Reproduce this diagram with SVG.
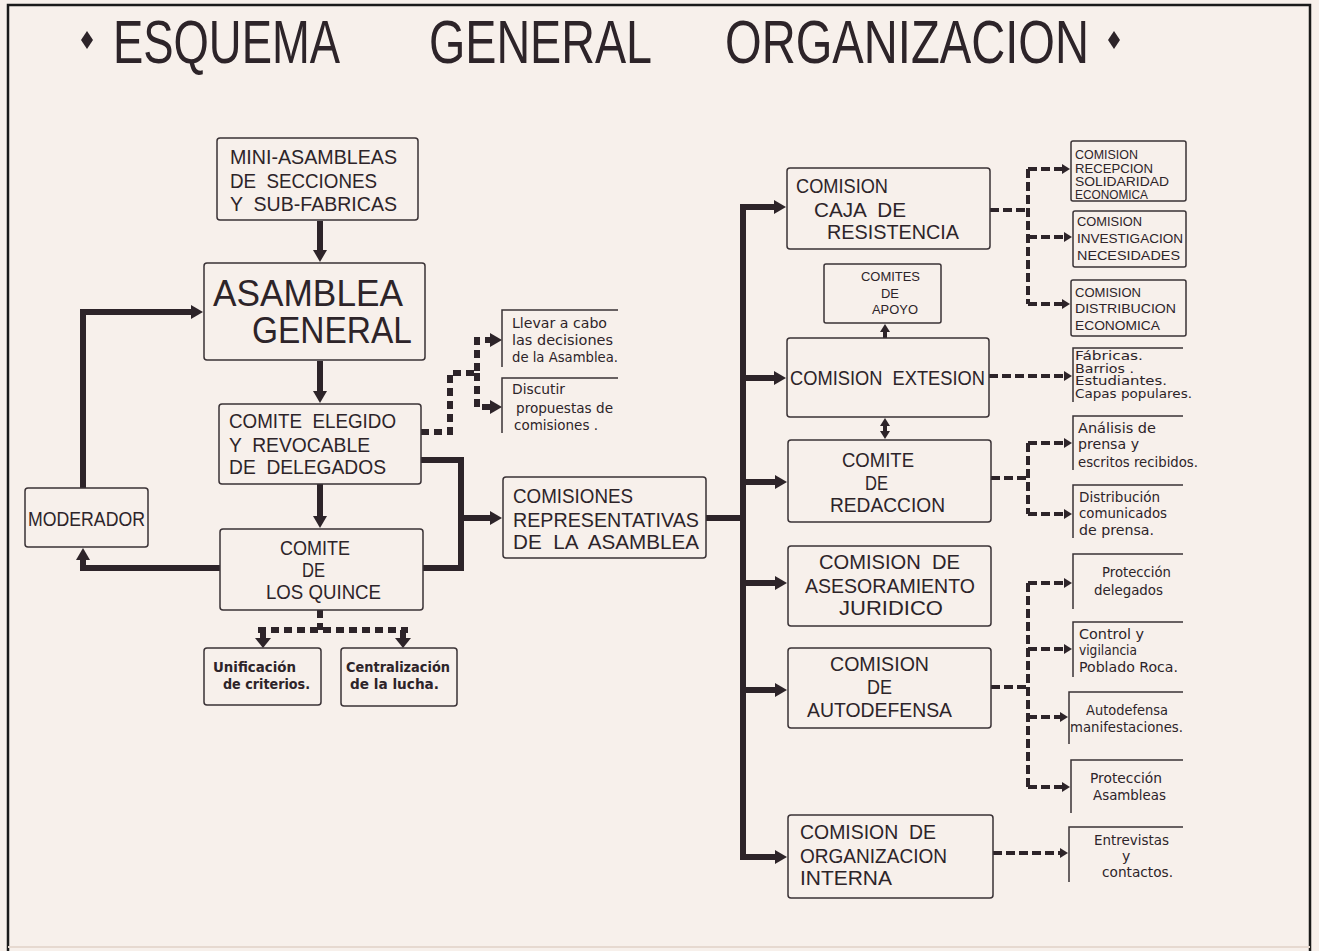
<svg xmlns="http://www.w3.org/2000/svg" width="1319" height="951" viewBox="0 0 1319 951">
<style>
.bg{fill:#f7f0eb}
.frame{stroke:#1a1a1a;stroke-width:2.5;fill:none}
.box{fill:none;stroke:#3a3236;stroke-width:1.5}
.open{fill:none;stroke:#3a3236;stroke-width:1.5}
.cap{font-family:"Liberation Sans",Arial,sans-serif;fill:#2d2429}
.low{font-family:"DejaVu Sans","Liberation Sans",sans-serif;fill:#2d2429}
.solid{fill:none;stroke:#2d2429;stroke-width:6}
.thin{fill:none;stroke:#2d2429;stroke-width:4}
.dashL{fill:none;stroke:#2d2429;stroke-width:6;stroke-dasharray:8 5}
.dashR{fill:none;stroke:#2d2429;stroke-width:4;stroke-dasharray:9 4}
</style>
<defs>
<marker id="ah" markerUnits="userSpaceOnUse" markerWidth="12" markerHeight="14" viewBox="0 0 12 14" refX="2" refY="7" orient="auto"><path d="M0,0 L12,7 L0,14 z" fill="#2d2429"/></marker>
<marker id="ahw" markerUnits="userSpaceOnUse" markerWidth="10" markerHeight="16" viewBox="0 0 10 16" refX="2" refY="8" orient="auto"><path d="M0,0 L10,8 L0,16 z" fill="#2d2429"/></marker>
<marker id="ahs" markerUnits="userSpaceOnUse" markerWidth="8" markerHeight="10" viewBox="0 0 8 10" refX="1" refY="5" orient="auto"><path d="M0,0 L8,5 L0,10 z" fill="#2d2429"/></marker>
<marker id="ahsStart" markerUnits="userSpaceOnUse" markerWidth="8" markerHeight="10" viewBox="0 0 8 10" refX="7" refY="5" orient="auto"><path d="M8,0 L0,5 L8,10 z" fill="#2d2429"/></marker>
</defs>
<rect class="bg" x="0" y="0" width="1319" height="951"/>
<path class="frame" d="M8,951 V5 H1310 V951"/>
<line x1="8" y1="947" x2="1310" y2="947" stroke="#e6d9d0" stroke-width="2"/>

<g id="title">
<polygon points="87,31 93,40 87,49 81,40" fill="#2d2429"/>
<text class="cap" x="113" y="63" font-size="62" textLength="227" lengthAdjust="spacingAndGlyphs">ESQUEMA</text>
<text class="cap" x="429" y="63" font-size="62" textLength="223" lengthAdjust="spacingAndGlyphs">GENERAL</text>
<text class="cap" x="725" y="63" font-size="62" textLength="364" lengthAdjust="spacingAndGlyphs">ORGANIZACION</text>
<polygon points="1114,31 1120,40 1114,49 1108,40" fill="#2d2429"/>
</g>

<g id="connectors">
<path class="solid" d="M320,221 V252" marker-end="url(#ah)"/>
<path class="solid" d="M320,361 V393" marker-end="url(#ah)"/>
<path class="solid" d="M320,484 V518" marker-end="url(#ah)"/>
<path class="solid" d="M220,568 H83 V558" marker-end="url(#ah)"/>
<path class="solid" d="M83,488 V312 H193" marker-end="url(#ah)"/>
<path class="solid" d="M421,460 H461 V568 H423"/>
<path class="solid" d="M461,518 H492" marker-end="url(#ah)"/>
<path class="solid" d="M706,518 H743"/>
<path class="solid" d="M743,204 V860"/>
<path class="solid" d="M743,207 H776" marker-end="url(#ah)"/>
<path class="solid" d="M743,378 H776" marker-end="url(#ah)"/>
<path class="solid" d="M743,482 H777" marker-end="url(#ah)"/>
<path class="solid" d="M743,583 H777" marker-end="url(#ah)"/>
<path class="solid" d="M743,690 H777" marker-end="url(#ah)"/>
<path class="solid" d="M743,857 H777" marker-end="url(#ah)"/>
<path class="thin" d="M885,338 V331" marker-end="url(#ahs)"/>
<path class="thin" d="M885,425 V432" marker-start="url(#ahsStart)" marker-end="url(#ahs)"/>

<path class="dashL" d="M421,432 H450 V373 H477 V340 H492" marker-end="url(#ah)"/>
<path class="dashL" d="M477,373 V407 H492" marker-end="url(#ah)"/>
<path class="dashL" d="M320,610 V630"/>
<path class="dashL" d="M258,630 H408"/>
<path class="dashL" d="M263,630 V640" marker-end="url(#ahw)"/>
<path class="dashL" d="M403,630 V640" marker-end="url(#ahw)"/>

<path class="dashR" d="M990,210 H1028"/>
<path class="dashR" d="M1028,169 V304"/>
<path class="dashR" d="M1028,169 H1063" marker-end="url(#ahs)"/>
<path class="dashR" d="M1028,237 H1065" marker-end="url(#ahs)"/>
<path class="dashR" d="M1028,304 H1063" marker-end="url(#ahs)"/>
<path class="dashR" d="M989,376 H1065" marker-end="url(#ahs)"/>
<path class="dashR" d="M991,478 H1028"/>
<path class="dashR" d="M1028,443 V514"/>
<path class="dashR" d="M1028,443 H1065" marker-end="url(#ahs)"/>
<path class="dashR" d="M1028,514 H1065" marker-end="url(#ahs)"/>
<path class="dashR" d="M991,687 H1028"/>
<path class="dashR" d="M1028,583 V787"/>
<path class="dashR" d="M1028,583 H1065" marker-end="url(#ahs)"/>
<path class="dashR" d="M1028,649 H1065" marker-end="url(#ahs)"/>
<path class="dashR" d="M1028,717 H1061" marker-end="url(#ahs)"/>
<path class="dashR" d="M1028,787 H1063" marker-end="url(#ahs)"/>
<path class="dashR" d="M993,853 H1061" marker-end="url(#ahs)"/>
</g>

<g id="mini-asambleas">
<rect class="box" x="217" y="138" width="201" height="82" rx="3"/>
<text class="cap" font-size="20" xml:space="preserve"><tspan x="230" y="164" textLength="167" lengthAdjust="spacingAndGlyphs">MINI-ASAMBLEAS</tspan><tspan x="230" y="188" textLength="147" lengthAdjust="spacingAndGlyphs">DE  SECCIONES</tspan><tspan x="230" y="211" textLength="167" lengthAdjust="spacingAndGlyphs">Y  SUB-FABRICAS</tspan></text>
</g>

<g id="asamblea-general">
<rect class="box" x="204" y="263" width="221" height="97" rx="3"/>
<text class="cap" font-size="37"><tspan x="213" y="306" textLength="190" lengthAdjust="spacingAndGlyphs">ASAMBLEA</tspan><tspan x="252" y="343" textLength="160" lengthAdjust="spacingAndGlyphs">GENERAL</tspan></text>
</g>

<g id="comite-elegido">
<rect class="box" x="219" y="404" width="202" height="80" rx="3"/>
<text class="cap" font-size="20" xml:space="preserve"><tspan x="229" y="428" textLength="167" lengthAdjust="spacingAndGlyphs">COMITE  ELEGIDO</tspan><tspan x="229" y="452" textLength="141" lengthAdjust="spacingAndGlyphs">Y  REVOCABLE</tspan><tspan x="229" y="474" textLength="157" lengthAdjust="spacingAndGlyphs">DE  DELEGADOS</tspan></text>
</g>

<g id="comite-quince">
<rect class="box" x="220" y="529" width="203" height="81" rx="3"/>
<text class="cap" font-size="20"><tspan x="280" y="555" textLength="70" lengthAdjust="spacingAndGlyphs">COMITE</tspan><tspan x="302" y="577" textLength="23" lengthAdjust="spacingAndGlyphs">DE</tspan><tspan x="266" y="599" textLength="115" lengthAdjust="spacingAndGlyphs">LOS QUINCE</tspan></text>
</g>

<g id="moderador">
<rect class="box" x="25" y="488" width="123" height="59" rx="3"/>
<text class="cap" font-size="20" x="28" y="526" textLength="117" lengthAdjust="spacingAndGlyphs">MODERADOR</text>
</g>

<g id="unificacion">
<rect class="box" x="204" y="648" width="117" height="57" rx="3"/>
<text class="low" font-size="14" font-weight="bold"><tspan x="213" y="672" textLength="83" lengthAdjust="spacingAndGlyphs">Unificación</tspan><tspan x="223" y="689" textLength="87" lengthAdjust="spacingAndGlyphs">de criterios.</tspan></text>
</g>

<g id="centralizacion">
<rect class="box" x="341" y="648" width="116" height="58" rx="3"/>
<text class="low" font-size="14" font-weight="bold"><tspan x="346" y="672" textLength="104" lengthAdjust="spacingAndGlyphs">Centralización</tspan><tspan x="350" y="689" textLength="89" lengthAdjust="spacingAndGlyphs">de la lucha.</tspan></text>
</g>

<g id="llevar">
<path class="open" d="M502,367 V310 H618"/>
<text class="low" font-size="14"><tspan x="512" y="328" textLength="95" lengthAdjust="spacingAndGlyphs">Llevar a cabo</tspan><tspan x="512" y="345" textLength="101" lengthAdjust="spacingAndGlyphs">las decisiones</tspan><tspan x="512" y="362" textLength="106" lengthAdjust="spacingAndGlyphs">de la Asamblea.</tspan></text>
</g>

<g id="discutir">
<path class="open" d="M502,433 V378 H618"/>
<text class="low" font-size="14"><tspan x="512" y="394" textLength="53" lengthAdjust="spacingAndGlyphs">Discutir</tspan><tspan x="516" y="413" textLength="97" lengthAdjust="spacingAndGlyphs">propuestas de</tspan><tspan x="514" y="430" textLength="84" lengthAdjust="spacingAndGlyphs">comisiones .</tspan></text>
</g>

<g id="comisiones-representativas">
<rect class="box" x="503" y="477" width="203" height="81" rx="3"/>
<text class="cap" font-size="20" xml:space="preserve"><tspan x="513" y="503" textLength="120" lengthAdjust="spacingAndGlyphs">COMISIONES</tspan><tspan x="513" y="527" textLength="186" lengthAdjust="spacingAndGlyphs">REPRESENTATIVAS</tspan><tspan x="513" y="549" textLength="186" lengthAdjust="spacingAndGlyphs">DE  LA  ASAMBLEA</tspan></text>
</g>

<g id="caja-resistencia">
<rect class="box" x="787" y="168" width="203" height="81" rx="3"/>
<text class="cap" font-size="21" xml:space="preserve"><tspan x="796" y="193" textLength="92" lengthAdjust="spacingAndGlyphs">COMISION</tspan><tspan x="814" y="217" textLength="92" lengthAdjust="spacingAndGlyphs">CAJA  DE</tspan><tspan x="827" y="239" textLength="132" lengthAdjust="spacingAndGlyphs">RESISTENCIA</tspan></text>
</g>

<g id="recepcion">
<rect class="box" x="1071" y="141" width="115" height="60" rx="2"/>
<text class="cap" font-size="13"><tspan x="1075" y="159" textLength="63" lengthAdjust="spacingAndGlyphs">COMISION</tspan><tspan x="1075" y="173" textLength="78" lengthAdjust="spacingAndGlyphs">RECEPCION</tspan><tspan x="1075" y="186" textLength="94" lengthAdjust="spacingAndGlyphs">SOLIDARIDAD</tspan><tspan x="1075" y="199" textLength="73" lengthAdjust="spacingAndGlyphs">ECONOMICA</tspan></text>
</g>

<g id="investigacion">
<rect class="box" x="1073" y="211" width="113" height="56" rx="2"/>
<text class="cap" font-size="13"><tspan x="1077" y="226" textLength="65" lengthAdjust="spacingAndGlyphs">COMISION</tspan><tspan x="1077" y="243" textLength="106" lengthAdjust="spacingAndGlyphs">INVESTIGACION</tspan><tspan x="1077" y="260" textLength="103" lengthAdjust="spacingAndGlyphs">NECESIDADES</tspan></text>
</g>

<g id="distribucion-economica">
<rect class="box" x="1071" y="280" width="115" height="56" rx="2"/>
<text class="cap" font-size="13"><tspan x="1075" y="297" textLength="66" lengthAdjust="spacingAndGlyphs">COMISION</tspan><tspan x="1075" y="313" textLength="101" lengthAdjust="spacingAndGlyphs">DISTRIBUCION</tspan><tspan x="1075" y="330" textLength="85" lengthAdjust="spacingAndGlyphs">ECONOMICA</tspan></text>
</g>

<g id="comites-apoyo">
<rect class="box" x="824" y="264" width="117" height="59" rx="2"/>
<text class="cap" font-size="13"><tspan x="861" y="281" textLength="59" lengthAdjust="spacingAndGlyphs">COMITES</tspan><tspan x="881" y="298" textLength="18" lengthAdjust="spacingAndGlyphs">DE</tspan><tspan x="872" y="314" textLength="46" lengthAdjust="spacingAndGlyphs">APOYO</tspan></text>
</g>

<g id="comision-extesion">
<rect class="box" x="787" y="338" width="202" height="79" rx="3"/>
<text class="cap" font-size="21" x="790" y="385" textLength="195" lengthAdjust="spacingAndGlyphs" xml:space="preserve">COMISION  EXTESION</text>
</g>

<g id="fabricas">
<path class="open" d="M1073,402 V348 H1183"/>
<text class="low" font-size="12"><tspan x="1075" y="360" textLength="68" lengthAdjust="spacingAndGlyphs">Fábricas.</tspan><tspan x="1075" y="373" textLength="59" lengthAdjust="spacingAndGlyphs">Barrios .</tspan><tspan x="1075" y="385" textLength="92" lengthAdjust="spacingAndGlyphs">Estudiantes.</tspan><tspan x="1075" y="398" textLength="117" lengthAdjust="spacingAndGlyphs">Capas populares.</tspan></text>
</g>

<g id="comite-redaccion">
<rect class="box" x="788" y="440" width="203" height="82" rx="3"/>
<text class="cap" font-size="21"><tspan x="842" y="467" textLength="72" lengthAdjust="spacingAndGlyphs">COMITE</tspan><tspan x="865" y="490" textLength="23" lengthAdjust="spacingAndGlyphs">DE</tspan><tspan x="830" y="512" textLength="115" lengthAdjust="spacingAndGlyphs">REDACCION</tspan></text>
</g>

<g id="analisis">
<path class="open" d="M1073,470 V416 H1183"/>
<text class="low" font-size="14"><tspan x="1078" y="433" textLength="78" lengthAdjust="spacingAndGlyphs">Análisis de</tspan><tspan x="1078" y="449" textLength="61" lengthAdjust="spacingAndGlyphs">prensa y</tspan><tspan x="1078" y="467" textLength="120" lengthAdjust="spacingAndGlyphs">escritos recibidos.</tspan></text>
</g>

<g id="distribucion-comunicados">
<path class="open" d="M1073,538 V485 H1183"/>
<text class="low" font-size="14"><tspan x="1079" y="502" textLength="81" lengthAdjust="spacingAndGlyphs">Distribución</tspan><tspan x="1079" y="518" textLength="88" lengthAdjust="spacingAndGlyphs">comunicados</tspan><tspan x="1079" y="535" textLength="75" lengthAdjust="spacingAndGlyphs">de prensa.</tspan></text>
</g>

<g id="asesoramiento">
<rect class="box" x="788" y="546" width="203" height="80" rx="3"/>
<text class="cap" font-size="21" xml:space="preserve"><tspan x="819" y="569" textLength="141" lengthAdjust="spacingAndGlyphs">COMISION  DE</tspan><tspan x="805" y="593" textLength="170" lengthAdjust="spacingAndGlyphs">ASESORAMIENTO</tspan><tspan x="839" y="615" textLength="104" lengthAdjust="spacingAndGlyphs">JURIDICO</tspan></text>
</g>

<g id="proteccion-delegados">
<path class="open" d="M1073,609 V554 H1183"/>
<text class="low" font-size="14"><tspan x="1102" y="577" textLength="69" lengthAdjust="spacingAndGlyphs">Protección</tspan><tspan x="1094" y="595" textLength="69" lengthAdjust="spacingAndGlyphs">delegados</tspan></text>
</g>

<g id="control-vigilancia">
<path class="open" d="M1073,677 V622 H1183"/>
<text class="low" font-size="14"><tspan x="1079" y="639" textLength="65" lengthAdjust="spacingAndGlyphs">Control y</tspan><tspan x="1079" y="655" textLength="58" lengthAdjust="spacingAndGlyphs">vigilancia</tspan><tspan x="1079" y="672" textLength="99" lengthAdjust="spacingAndGlyphs">Poblado Roca.</tspan></text>
</g>

<g id="autodefensa">
<rect class="box" x="788" y="648" width="203" height="80" rx="3"/>
<text class="cap" font-size="21"><tspan x="830" y="671" textLength="99" lengthAdjust="spacingAndGlyphs">COMISION</tspan><tspan x="867" y="694" textLength="25" lengthAdjust="spacingAndGlyphs">DE</tspan><tspan x="807" y="717" textLength="145" lengthAdjust="spacingAndGlyphs">AUTODEFENSA</tspan></text>
</g>

<g id="autodefensa-manifestaciones">
<path class="open" d="M1069,744 V692 H1183"/>
<text class="low" font-size="14"><tspan x="1086" y="715" textLength="82" lengthAdjust="spacingAndGlyphs">Autodefensa</tspan><tspan x="1070" y="732" textLength="113" lengthAdjust="spacingAndGlyphs">manifestaciones.</tspan></text>
</g>

<g id="proteccion-asambleas">
<path class="open" d="M1071,813 V760 H1183"/>
<text class="low" font-size="14"><tspan x="1090" y="783" textLength="72" lengthAdjust="spacingAndGlyphs">Protección</tspan><tspan x="1093" y="800" textLength="73" lengthAdjust="spacingAndGlyphs">Asambleas</tspan></text>
</g>

<g id="organizacion-interna">
<rect class="box" x="788" y="815" width="205" height="83" rx="3"/>
<text class="cap" font-size="21" xml:space="preserve"><tspan x="800" y="839" textLength="136" lengthAdjust="spacingAndGlyphs">COMISION  DE</tspan><tspan x="800" y="863" textLength="147" lengthAdjust="spacingAndGlyphs">ORGANIZACION</tspan><tspan x="800" y="885" textLength="92" lengthAdjust="spacingAndGlyphs">INTERNA</tspan></text>
</g>

<g id="entrevistas">
<path class="open" d="M1069,882 V827 H1183"/>
<text class="low" font-size="14"><tspan x="1094" y="845" textLength="75" lengthAdjust="spacingAndGlyphs">Entrevistas</tspan><tspan x="1122" y="861">y</tspan><tspan x="1102" y="877" textLength="71" lengthAdjust="spacingAndGlyphs">contactos.</tspan></text>
</g>
</svg>
